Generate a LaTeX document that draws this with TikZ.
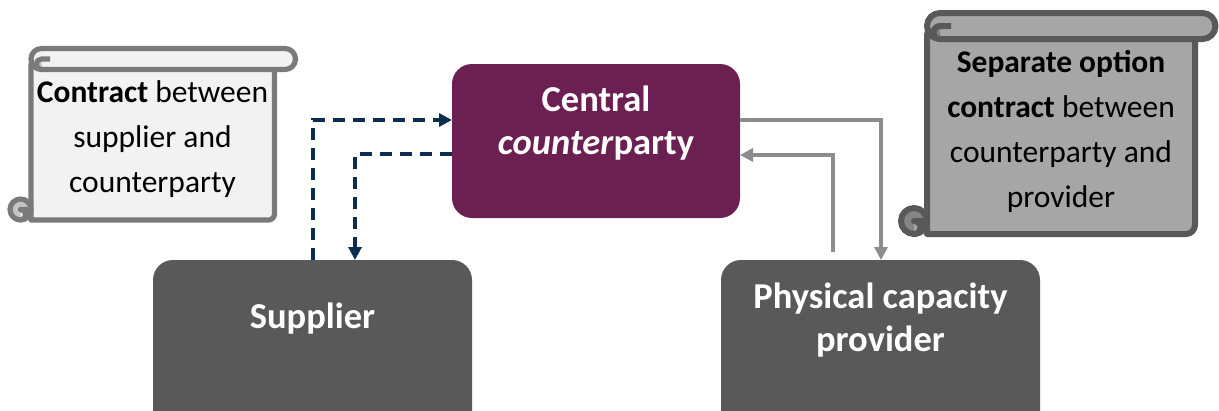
\documentclass[tikz,border=0pt]{standalone}
\usepackage{fontspec}
\setmainfont{Carlito}
\usetikzlibrary{arrows.meta}
\definecolor{ccpfill}{HTML}{6B2051}
\definecolor{boxgray}{HTML}{595959}
\definecolor{navyline}{HTML}{0C2D50}
\definecolor{greyline}{HTML}{8C8C8C}
\definecolor{scrollAfill}{HTML}{F2F2F2}
\definecolor{scrollAline}{HTML}{7A7A7A}
\definecolor{scrollAcurl}{HTML}{C4C4C4}
\definecolor{scrollBfill}{HTML}{A6A6A6}
\definecolor{scrollBline}{HTML}{595959}
\definecolor{scrollBcurl}{HTML}{858585}
\begin{document}
\begin{tikzpicture}[x=1pt,y=1pt,
  block/.style={rectangle, rounded corners=20pt, outer sep=0pt, inner sep=0pt, draw=none},
  blocktext/.style={text=white, font=\bfseries\fontsize{36.5}{43}\selectfont, align=center, inner sep=0pt},
  scrolltext/.style={text=black, font=\fontsize{31.5}{45}\selectfont, align=center, inner sep=0pt},
  flowdash/.style={navyline, line width=3.2pt, dash pattern=on 12pt off 8pt, -{Triangle[length=13pt,width=13pt]}},
  flowgrey/.style={greyline, line width=3.3pt, -{Triangle[length=13pt,width=13pt]}},
]
\clip (0,0) rectangle (1219,-410);

% boxes
\node[block, fill=ccpfill, minimum width=288pt, minimum height=154pt] (ccp) at (596,-141) {};
\node[blocktext] (ccpt) at (596,-123) {Central\\\textit{counter}party};
\node[block, fill=boxgray, minimum width=319pt, minimum height=190pt, anchor=north] (sup) at (312.5,-260) {};
\node[blocktext] (supt) at (312.5,-319) {Supplier};
\node[block, fill=boxgray, minimum width=319pt, minimum height=190pt, anchor=north] (prov) at (880.5,-260) {};
\node[blocktext] (provt) at (880.5,-320) {Physical capacity\\provider};

% connectors
\draw[flowdash] (sup.north -| 313,0) |- (ccp.west |- 0,-120);
\draw[flowdash] (ccp.west |- 0,-154) -| (sup.north -| 355,0);
\draw[flowgrey] (ccp.east |- 0,-120) -| (prov.north -| 881,0);
\draw[flowgrey, shorten <=8pt] (prov.north -| 833,0) |- (ccp.east |- 0,-155);

% left scroll
\begin{scope}[line width=5.2pt, draw=scrollAline, line join=round]
  \filldraw[fill=scrollAfill] (31,-59) -- (31,-220) [rounded corners=6pt] -- (274.5,-220) -- (274.5,-59) -- cycle;
  \filldraw[fill=scrollAfill, rounded corners=10.5pt] (31,-48.5) rectangle (295.5,-69.5);
  \fill[scrollAcurl] (41.5,-59) arc[start angle=90, end angle=270, radius=5.25pt] -- cycle;
  \draw (50,-59) -- (41.5,-59) arc[start angle=90, end angle=270, radius=5.25pt];
  \filldraw[fill=scrollAcurl] (20.5,-209.5) circle[radius=10.5pt];
  \fill[scrollAfill] (20.5,-209.5) arc[start angle=90, end angle=-90, radius=5.25pt] -- cycle;
  \draw (29,-209.5) -- (20.5,-209.5) arc[start angle=90, end angle=-90, radius=5.25pt];
\end{scope}
\node[scrolltext] (lnote) at (152.5,-139) {\textbf{Contract} between\\supplier and\\counterparty};

% right scroll
\begin{scope}[line width=6pt, draw=scrollBline, line join=round]
  \filldraw[fill=scrollBfill] (927,-26) -- (927,-234) [rounded corners=9pt] -- (1195,-234) -- (1195,-26) -- cycle;
  \filldraw[fill=scrollBfill, rounded corners=13pt] (927,-13) rectangle (1215.5,-39);
  \fill[scrollBcurl] (940,-26) arc[start angle=90, end angle=270, radius=6.5pt] -- cycle;
  \draw (951,-26) -- (940,-26) arc[start angle=90, end angle=270, radius=6.5pt];
  \filldraw[fill=scrollBcurl] (914,-221) circle[radius=13pt];
  \fill[scrollBfill] (914,-221) arc[start angle=90, end angle=-90, radius=6.5pt] -- cycle;
  \draw (924,-221) -- (914,-221) arc[start angle=90, end angle=-90, radius=6.5pt];
\end{scope}
\node[scrolltext] (rnote) at (1061,-131) {\textbf{Separate option}\\\textbf{contract} between\\counterparty and\\provider};
\end{tikzpicture}
\end{document}
